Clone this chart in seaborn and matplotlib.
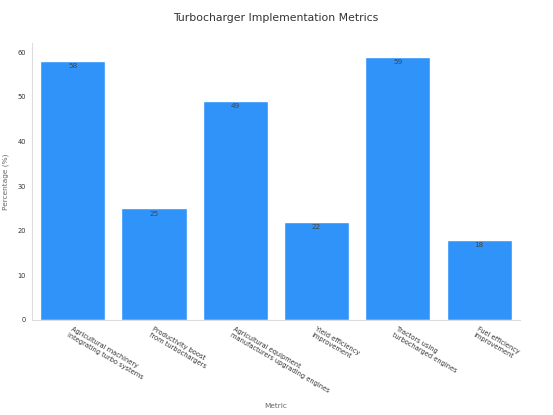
import pandas as pd
import matplotlib
matplotlib.use("Agg")
import matplotlib.pyplot as plt
import seaborn as sns

# Data
metrics = [
    "Agricultural machinery\nintegrating turbo systems",
    "Productivity boost\nfrom turbochargers",
    "Agricultural equipment\nmanufacturers upgrading engines",
    "Yield efficiency\nimprovement",
    "Tractors using\nturbocharged engines",
    "Fuel efficiency\nimprovement",
]
values = [58, 25, 49, 22, 59, 18]

df = pd.DataFrame({"Metric": metrics, "Percentage (%)": values})

sns.set_theme(style="white")
plt.rcParams["font.family"] = ["DejaVu Sans"]

fig, ax = plt.subplots(figsize=(5.53, 4.15), dpi=100)
sns.barplot(data=df, x="Metric", y="Percentage (%)", color="#2f93f9",
            saturation=1, width=0.8, ax=ax)

for p, v in zip(ax.patches, values):
    ax.text(p.get_x() + p.get_width() / 2, p.get_height() - 0.5, str(v),
            ha="center", va="top", fontsize=5.2, color="#444444")

ax.set_ylim(0, 62)
ax.set_title("Turbocharger Implementation Metrics", fontsize=7.8, color="#333333", pad=16)
ax.set_xlabel("Metric", fontsize=5.3, color="#666666", labelpad=6)
ax.set_ylabel("Percentage (%)", fontsize=5.3, color="#666666", labelpad=6)
ax.tick_params(axis="both", labelsize=4.8, colors="#333333", length=2.5, width=0.6, pad=2)
ax.tick_params(axis="both", color="#999999")
plt.setp(ax.get_xticklabels(), rotation=-30, ha="left", va="top", rotation_mode="anchor")

sns.despine(ax=ax)
for s in ["left", "bottom"]:
    ax.spines[s].set_color("#dddddd")
    ax.spines[s].set_linewidth(0.8)

fig.subplots_adjust(left=0.058, right=0.94, top=0.896, bottom=0.229)
fig.savefig("out.png", dpi=100)
